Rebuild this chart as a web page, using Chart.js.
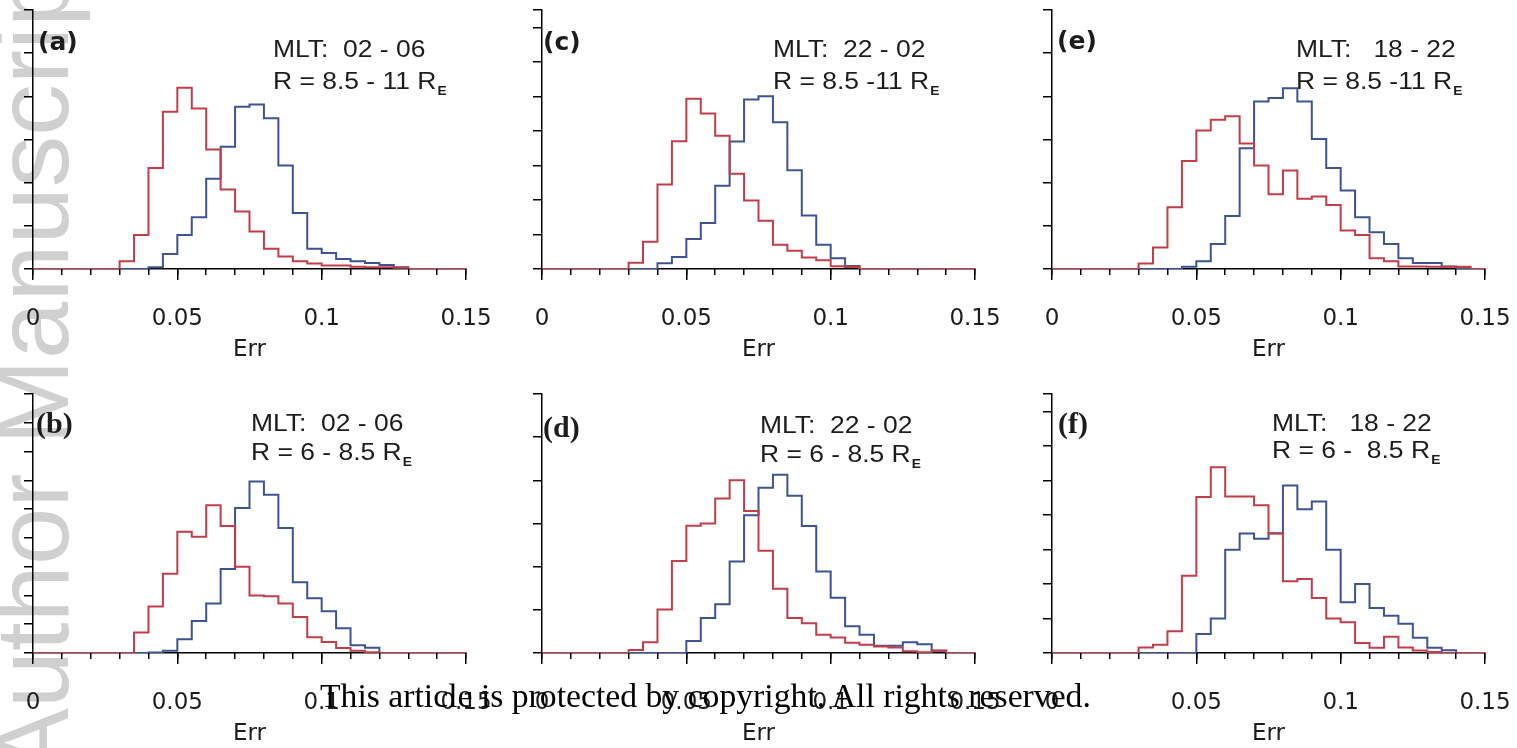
<!DOCTYPE html>
<html>
<head>
<meta charset="utf-8">
<title>Err histograms</title>
<script src="https://cdn.jsdelivr.net/npm/chart.js@4.4.1/dist/chart.umd.min.js"></script>
<style>
  html, body { margin: 0; padding: 0; background: #fff; overflow: hidden; }
  body { width: 1517px; height: 748px; position: relative; }
  canvas { position: absolute; }
  #mark { left: 0; top: 0; z-index: 0; }
  .panel { z-index: 1; }
  #notice {
    position: absolute; left: 320px; top: 679px; z-index: 2;
    font: 33.7px "Liberation Serif", serif; line-height: 33px;
    color: #000; white-space: nowrap;
  }
</style>
</head>
<body>
<canvas id="mark" width="1517" height="748"></canvas>
<canvas id="pa" class="panel" width="523" height="364" style="left:-3px;top:0px"></canvas>
<canvas id="pc" class="panel" width="523" height="364" style="left:506px;top:0px"></canvas>
<canvas id="pe" class="panel" width="523" height="364" style="left:1016px;top:0px"></canvas>
<canvas id="pb" class="panel" width="523" height="364" style="left:-3px;top:384px"></canvas>
<canvas id="pd" class="panel" width="523" height="364" style="left:506px;top:384px"></canvas>
<canvas id="pf" class="panel" width="523" height="364" style="left:1016px;top:384px"></canvas>
<div id="notice">This article is protected by copyright. All rights reserved.</div>
<script>
// histogram bin edges for Err
var binEdges = [0, 0.005, 0.01, 0.015, 0.02, 0.025, 0.03, 0.035, 0.04, 0.045, 0.05,
  0.055, 0.06, 0.065, 0.07, 0.075, 0.08, 0.085, 0.09, 0.095, 0.1,
  0.105, 0.11, 0.115, 0.12, 0.125, 0.13, 0.135, 0.14, 0.145, 0.15];
var xTickLabels = ['0', '0.05', '0.1', '0.15'];

// bin counts (one value per bin), red and blue curve of each panel
var aRed  = [0,0,0,0,0,0,0.18,0.79,2.34,3.64,4.20,3.72,2.77,1.84,1.33,0.87,0.47,0.29,0.18,0.13,0.08,0.08,0.05,0.04,0.04,0.03,0,0,0,0];
var aBlue = [0,0,0,0,0,0,0,0,0.04,0.35,0.79,1.20,2.09,2.83,3.76,3.81,3.49,2.40,1.30,0.47,0.37,0.23,0.18,0.14,0.09,0.04,0,0,0,0];
var bRed  = [0,0,0,0,0,0,0,0.71,1.62,2.75,4.21,4.04,5.13,4.41,3.00,2.00,1.97,1.72,1.25,0.55,0.38,0.17,0.08,0.03,0,0,0,0,0,0];
var bBlue = [0,0,0,0,0,0,0,0,0.02,0.08,0.48,1.11,1.72,2.92,5.04,5.96,5.50,4.34,2.46,1.90,1.45,0.86,0.27,0.18,0,0,0,0,0,0];
var cRed  = [0,0,0,0,0,0,0.18,0.79,2.45,3.70,4.93,4.50,3.86,2.76,1.98,1.40,0.70,0.53,0.33,0.25,0.08,0.06,0,0,0,0,0,0,0,0];
var cBlue = [0,0,0,0,0,0,0,0,0.17,0.35,0.87,1.33,2.41,3.69,4.91,5.00,4.25,2.86,1.55,0.70,0.31,0.09,0,0,0,0,0,0,0,0];
var dRed  = [0,0,0,0,0,0,0.07,0.25,1.01,2.13,2.95,3.00,3.58,4.00,3.29,2.37,1.49,0.81,0.69,0.42,0.36,0.24,0.19,0.15,0.13,0.04,0.02,0.06,0,0];
var dBlue = [0,0,0,0,0,0,0,0,0,0,0.28,0.81,1.13,2.12,3.19,3.83,4.13,3.64,2.94,1.89,1.28,0.62,0.42,0.17,0.17,0.25,0.20,0.05,0,0];
var eRed  = [0,0,0,0,0,0,0.13,0.50,1.43,2.50,3.21,3.46,3.54,2.91,2.40,1.73,2.28,1.63,1.68,1.48,0.89,0.79,0.25,0.18,0.06,0.06,0.05,0.05,0.05,0];
var eBlue = [0,0,0,0,0,0,0,0,0,0.05,0.18,0.58,1.23,2.80,3.88,3.96,4.19,3.88,3.01,2.34,1.82,1.20,0.85,0.58,0.25,0.14,0.14,0.06,0.02,0];
var fRed  = [0,0,0,0,0,0,0.16,0.24,0.63,2.24,4.52,5.38,4.53,4.53,4.28,3.47,2.08,2.14,1.59,1.00,0.89,0.29,0.15,0.47,0.16,0.07,0.03,0,0,0];
var fBlue = [0,0,0,0,0,0,0,0,0,0,0.55,1.00,2.99,3.46,3.31,3.46,4.85,4.16,4.39,2.99,1.47,2.00,1.30,1.08,0.85,0.44,0.15,0.08,0,0];

// y-axis extent (in tick steps) and annotation text of each panel
var yMax = { a: 6, b: 9, c: 7.5, d: 6, e: 6, f: 7.5 };
var mltLabels = { a: 'MLT:  02 - 06', b: 'MLT:  02 - 06', c: 'MLT:  22 - 02', d: 'MLT:  22 - 02', e: 'MLT:   18 - 22', f: 'MLT:   18 - 22' };
var rangeLabels = { a: 'R = 8.5 - 11 R', b: 'R = 6 - 8.5 R', c: 'R = 8.5 -11 R', d: 'R = 6 - 8.5 R', e: 'R = 8.5 -11 R', f: 'R = 6 -  8.5 R' };

var RED = '#c13d48';
var BLUE = '#3e5391';
var INK = '#1c1c1c';

// where each panel puts its tag and its two text lines (relative to the plot box)
var layoutOf = {
  a: { tagFont: 'bold 25px "DejaVu Sans"', tagX: 5, tagY: 40, textX: 240, l1: 47, l2: 79 },
  c: { tagFont: 'bold 25px "DejaVu Sans"', tagX: 1, tagY: 40, textX: 231, l1: 47, l2: 79 },
  e: { tagFont: 'bold 25px "DejaVu Sans"', tagX: 5, tagY: 39, textX: 244, l1: 47, l2: 79 },
  b: { tagFont: 'bold 30px "Liberation Serif"', tagX: 3, tagY: 39, textX: 218, l1: 37, l2: 66 },
  d: { tagFont: 'bold 30px "Liberation Serif"', tagX: 1, tagY: 43, textX: 218, l1: 39, l2: 68 },
  f: { tagFont: 'bold 30px "Liberation Serif"', tagX: 6, tagY: 39, textX: 220, l1: 37, l2: 64 }
};

var panelText = {
  id: 'panelText',
  afterDraw: function (chart, args, o) {
    var ctx = chart.ctx, area = chart.chartArea;
    ctx.save();
    ctx.fillStyle = INK;
    ctx.textBaseline = 'alphabetic';
    ctx.font = o.tagFont;
    ctx.fillText(o.tag, area.left + o.tagX, area.top + o.tagY);
    // the MLT / R lines are set a little wide
    ctx.translate(area.left + o.textX, area.top);
    ctx.scale(1.15, 1);
    ctx.font = '23px "Liberation Sans"';
    ctx.fillText(o.mlt, 0, o.l1);
    ctx.fillText(o.range, 0, o.l2);
    var w = ctx.measureText(o.range).width;
    ctx.font = 'bold 12px "Liberation Sans"';
    ctx.fillText('E', w + 1, o.l2 + 6);
    ctx.restore();
  }
};

// one point per bin edge; the last edge repeats the last bin so its top is drawn
function steps(vals) {
  return binEdges.map(function (x, i) {
    return { x: x, y: vals[Math.min(i, vals.length - 1)] };
  });
}

function histogram(key, red, blue) {
  var lay = layoutOf[key];
  var tickFont = { family: '"DejaVu Sans"', size: 23 };
  return new Chart(document.getElementById('p' + key), {
    type: 'line',
    data: {
      datasets: [
        { label: 'red', data: steps(red), borderColor: RED },
        { label: 'blue', data: steps(blue), borderColor: BLUE }
      ]
    },
    options: {
      responsive: false,
      animation: false,
      devicePixelRatio: 1,
      layout: { padding: { top: 10, right: 54, bottom: 0, left: 0 } },
      elements: {
        point: { radius: 0 },
        line: { borderWidth: 2, stepped: 'before', tension: 0, fill: false }
      },
      plugins: {
        legend: { display: false },
        tooltip: { enabled: false },
        panelText: {
          tag: '(' + key + ')', tagFont: lay.tagFont, tagX: lay.tagX, tagY: lay.tagY,
          textX: lay.textX, l1: lay.l1, l2: lay.l2,
          mlt: mltLabels[key], range: rangeLabels[key]
        }
      },
      scales: {
        // minor ticks every 0.01
        xm: {
          type: 'linear', position: 'bottom', weight: 0,
          min: 0, max: 0.15,
          ticks: { display: false, stepSize: 0.01 },
          grid: { drawOnChartArea: false, tickLength: 6, color: '#000', lineWidth: 1.5 },
          border: { display: false },
          afterFit: function (s) { s.height = 0; }
        },
        x: {
          type: 'linear', position: 'bottom', weight: 1,
          min: 0, max: 0.15,
          ticks: {
            stepSize: 0.05, autoSkip: false, maxRotation: 0, padding: 25,
            color: INK, font: tickFont,
            callback: function (v) { return xTickLabels[Math.round(v / 0.05)]; }
          },
          grid: { drawOnChartArea: false, tickLength: 11, color: '#000', lineWidth: 1.5 },
          border: { display: true, color: '#000', width: 1.5 },
          title: { display: true, text: 'Err', color: INK, font: tickFont, padding: 0 },
          afterFit: function (s) { s.height = 95; }
        },
        y: {
          type: 'linear', min: 0, max: yMax[key],
          ticks: { display: false, stepSize: 1 },
          grid: { drawOnChartArea: false, tickLength: 9, color: '#000', lineWidth: 1.5 },
          border: { display: true, color: '#000', width: 1.5 },
          afterFit: function (s) { s.width = 36; }
        }
      }
    },
    plugins: [panelText]
  });
}

// faint vertical watermark behind the panels
var mk = document.getElementById('mark').getContext('2d');
mk.save();
mk.translate(68, 777);
mk.rotate(-Math.PI / 2);
mk.font = '103px "Liberation Sans"';
mk.fillStyle = '#d0d0d0';
mk.fillText('Author Manuscript', 0, 0);
mk.restore();

histogram('a', aRed, aBlue);
histogram('c', cRed, cBlue);
histogram('e', eRed, eBlue);
histogram('b', bRed, bBlue);
histogram('d', dRed, dBlue);
histogram('f', fRed, fBlue);
</script>
</body>
</html>
